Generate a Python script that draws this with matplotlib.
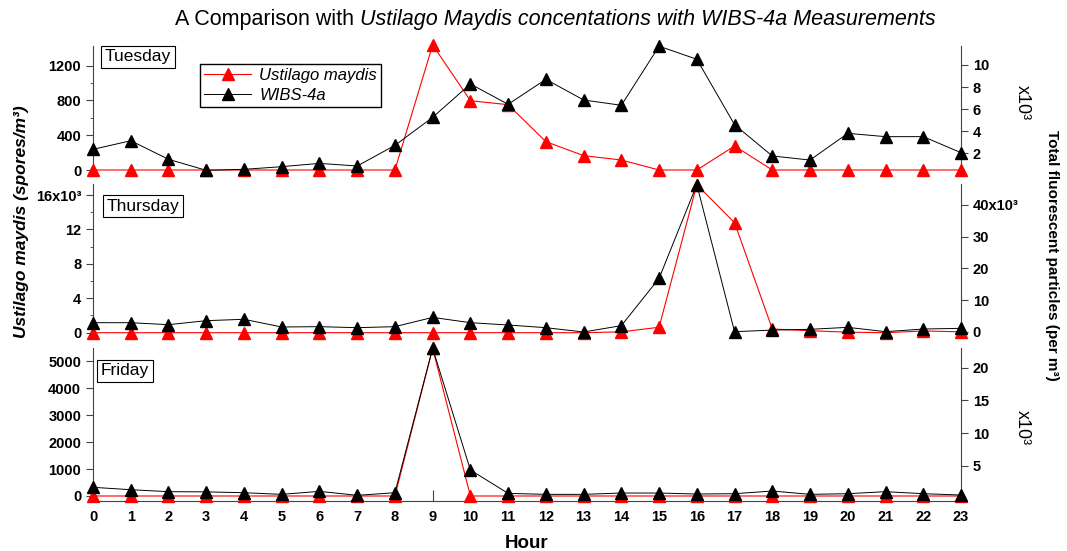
import matplotlib.pyplot as plt

plt.rcParams['font.family'] = ['Liberation Sans', 'DejaVu Sans']

hours = list(range(24))

# Ustilago maydis concentration (spores/m3)
tue_ustilago = [0, 0, 0, 0, 0, 0, 0, 0, 0, 1438, 797, 751,
                326, 165, 115, 0, 0, 276, 0, 0, 0, 0, 0, 0]
thu_ustilago = [0, 0, 0, 0, 0, 0, 0, 0, 0, 0, 0, 0,
                0, 0, 100, 630, 17200, 12780, 430, 230, 60, 0, 200, 100]
fri_ustilago = [0, 0, 0, 0, 0, 0, 0, 0, 0, 5480, 0, 0,
                0, 0, 0, 0, 0, 0, 0, 0, 0, 0, 0, 0]

# WIBS-4a total fluorescent particles (per m3, x10^3)
tue_wibs = [2.36, 3.14, 1.46, 0.46, 0.55, 0.79, 1.09, 0.85, 2.72, 5.26, 8.28, 6.44,
            8.70, 6.83, 6.35, 11.7, 10.52, 4.59, 1.76, 1.39, 3.81, 3.51, 3.51, 2.06]
thu_wibs = [2.93, 2.93, 2.30, 3.57, 4.00, 1.57, 1.68, 1.36, 1.68, 4.60, 2.93, 2.20,
            1.36, 0.0, 2.00, 16.9, 46.4, 0.1, 0.6, 0.84, 1.47, 0.1, 0.94, 1.15]
fri_wibs = [1.70, 1.33, 1.03, 1.00, 0.87, 0.62, 1.08, 0.47, 0.87, 23.0, 4.35, 0.77,
            0.62, 0.62, 0.82, 0.82, 0.67, 0.72, 1.13, 0.62, 0.72, 1.03, 0.72, 0.52]

W, H = 1067, 551
fig = plt.figure(figsize=(W / 100, H / 100), dpi=100)

left = 93 / W
width = 868 / W
spine_col = '#444444'
tick_font = dict(fontsize=10.5, fontweight='bold')


def px_rect(top, bottom):
    return [left, 1 - bottom / H, width, (bottom - top) / H]


def make_panel(rect, ust, wibs, ylim_l, ylim_r, lt, ll, lminor, rt, rl, show_x):
    ax = fig.add_axes(rect)
    ax.plot(hours, ust, color='red', lw=0.8, marker='^', ms=8.5,
            mec='red', mfc='red', clip_on=False, zorder=3)
    ax.set_xlim(0, 23)
    ax.set_ylim(*ylim_l)
    ax.set_yticks(lt, labels=ll, **tick_font)
    ax.set_yticks(lminor, minor=True)
    ax.tick_params(axis='y', which='major', length=5, color=spine_col)
    ax.tick_params(axis='y', which='minor', length=2.5, color=spine_col)
    for s in ['top', 'right']:
        ax.spines[s].set_visible(False)
    ax.spines['left'].set_color(spine_col)
    ax.spines['left'].set_linewidth(0.8)
    if show_x:
        ax.set_xticks(hours, labels=[str(h) for h in hours], **tick_font)
        ax.tick_params(axis='x', direction='in', length=8, color=spine_col, pad=6)
        ax.spines['bottom'].set_color(spine_col)
        ax.spines['bottom'].set_linewidth(0.8)
    else:
        ax.spines['bottom'].set_visible(False)
        ax.tick_params(axis='x', bottom=False, labelbottom=False)

    ax2 = ax.twinx()
    ax2.plot(hours, wibs, color='black', lw=0.7, marker='^', ms=8.5,
             mec='black', mfc='black', clip_on=False, zorder=3)
    ax2.set_ylim(*ylim_r)
    ax2.set_yticks(rt, labels=rl, **tick_font)
    ax2.tick_params(axis='y', length=5, color=spine_col)
    for s in ['top', 'left', 'bottom']:
        ax2.spines[s].set_visible(False)
    ax2.spines['right'].set_color(spine_col)
    ax2.spines['right'].set_linewidth(0.8)
    return ax, ax2


# Tuesday
ax_t, ax_t2 = make_panel(px_rect(46, 176), tue_ustilago, tue_wibs,
                         (-69, 1426), (-0.054, 11.72),
                         [0, 400, 800, 1200], ['0', '400', '800', '1200'],
                         [200, 600, 1000],
                         [2, 4, 6, 8, 10], ['2', '4', '6', '8', '10'], False)

# Thursday
make_panel(px_rect(184, 337), thu_ustilago, thu_wibs,
           (-500, 17280), (-1.575, 46.6),
           [0, 4000, 8000, 12000, 16000], ['0', '4', '8', '12', '16x10³'],
           [2000, 6000, 10000, 14000],
           [0, 10, 20, 30, 40], ['0', '10', '20', '30', '40x10³'], False)

# Friday
make_panel(px_rect(348, 501.3), fri_ustilago, fri_wibs,
           (-197, 5494), (-0.444, 23.03),
           [0, 1000, 2000, 3000, 4000, 5000],
           ['0', '1000', '2000', '3000', '4000', '5000'], [],
           [5, 10, 15, 20], ['5', '10', '15', '20'], True)

# day labels
box = dict(boxstyle='square,pad=0.2', fc='white', ec='black', lw=0.8)
for name, cx, cy in [('Tuesday', 138, 57), ('Thursday', 143, 206), ('Friday', 125, 371)]:
    fig.text(cx / W, 1 - cy / H, name, ha='center', va='center',
             fontsize=12.5, bbox=box)

# legend
h1 = ax_t.get_lines()[0]
h2 = ax_t2.get_lines()[0]
fig.legend([h1, h2], ['Ustilago maydis', 'WIBS-4a'],
           loc='upper left', bbox_to_anchor=(200 / W, 1 - 64 / H),
           prop=dict(style='italic', size=12), frameon=True, fancybox=False,
           edgecolor='black', framealpha=1, borderaxespad=0, handlelength=2.8,
           borderpad=0.25, labelspacing=0.3, handletextpad=0.5)

# title: regular part + italic part, centred as a whole
title_y = 1 - 20 / H
t1 = fig.text(0, title_y, 'A Comparison with ', ha='left', va='center',
              fontsize=15.5)
t2 = fig.text(0, title_y,
              'Ustilago Maydis concentations with WIBS-4a Measurements',
              ha='left', va='center', fontsize=15.5, style='italic')
fig.canvas.draw()
w1 = t1.get_window_extent().width
w2 = t2.get_window_extent().width
x0 = 555 - (w1 + w2) / 2
t1.set_x(x0 / W)
t2.set_x((x0 + w1) / W)

fig.text(22 / W, 1 - 222 / H, 'Ustilago maydis (spores/m³)', rotation=90,
         ha='center', va='center', fontsize=12.5, fontweight='bold', style='italic')
fig.text(1052 / W, 1 - 255 / H, 'Total fluorescent particles (per m³)',
         rotation=-90, ha='center', va='center', fontsize=11, fontweight='bold')
fig.text(1022 / W, 1 - 103 / H, 'x10³', rotation=-90, ha='center', va='center',
         fontsize=13)
fig.text(1022 / W, 1 - 428 / H, 'x10³', rotation=-90, ha='center', va='center',
         fontsize=13)
fig.text(527 / W, 1 - 544 / H, 'Hour', ha='center', va='center',
         fontsize=13.5, fontweight='bold')

fig.savefig('out.png', dpi=100)
